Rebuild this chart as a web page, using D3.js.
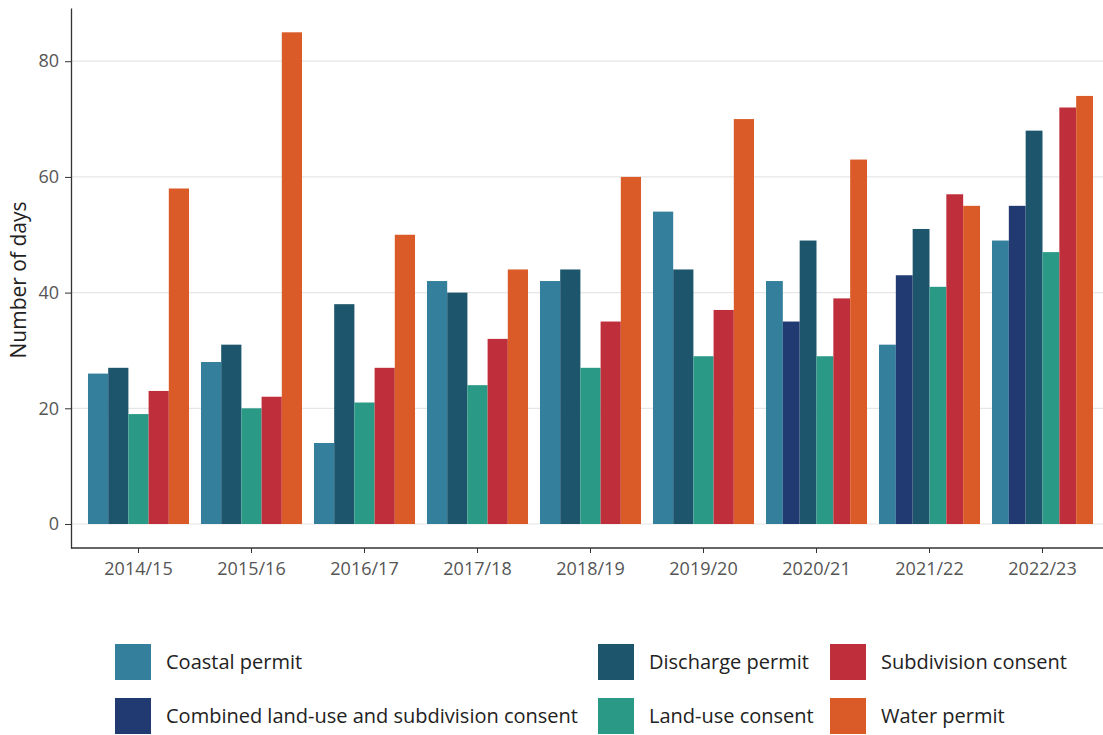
<!DOCTYPE html>
<html>
<head>
<meta charset="utf-8">
<script src="https://cdn.jsdelivr.net/npm/d3@7"></script>
<style>
  body { margin: 0; background: #fff; }
  text { font-family: "Open Sans", sans-serif; }
</style>
</head>
<body>
<div id="chart"></div>
<script>
const years = ["2014/15", "2015/16", "2016/17", "2017/18", "2018/19", "2019/20", "2020/21", "2021/22", "2022/23"];
const seriesNames = ["Coastal permit", "Combined land-use and subdivision consent", "Discharge permit", "Land-use consent", "Subdivision consent", "Water permit"];
const seriesColors = ["#337f9c", "#213a72", "#1c556c", "#2a9a86", "#bf2f3b", "#da5b27"];

// null = no value that year
const coastal     = [26, 28, 14, 42, 42, 54, 42, 31, 49];
const combined    = [null, null, null, null, null, null, 35, 43, 55];
const discharge   = [27, 31, 38, 40, 44, 44, 49, 51, 68];
const landUse     = [19, 20, 21, 24, 27, 29, 29, 41, 47];
const subdivision = [23, 22, 27, 32, 35, 37, 39, 57, 72];
const water       = [58, 85, 50, 44, 60, 70, 63, 55, 74];

const yTicks = [0, 20, 40, 60, 80];

const seriesValues = [coastal, combined, discharge, landUse, subdivision, water];

const W = 1103, H = 735;
const svg = d3.select("#chart").append("svg")
  .attr("width", W).attr("height", H);

const axisLeftX = 71, axisBottomY = 548;

const x = d3.scaleBand()
  .domain(years)
  .range([82, 1099])
  .paddingInner(0.106)
  .paddingOuter(0.053);

const y = d3.scaleLinear()
  .domain([-4.15, 89.2])
  .range([axisBottomY, 8]);

// grid
svg.append("g")
  .selectAll("line")
  .data(yTicks)
  .enter().append("line")
  .attr("x1", axisLeftX).attr("x2", W)
  .attr("y1", d => y(d)).attr("y2", d => y(d))
  .attr("stroke", "#e6e6e6").attr("stroke-width", 1.2);

// bars
const groups = svg.append("g")
  .selectAll("g")
  .data(years)
  .enter().append("g")
  .attr("transform", d => `translate(${x(d)},0)`);

groups.each(function (yr, i) {
  const present = seriesNames
    .map((name, k) => ({ name, k, v: seriesValues[k][i] }))
    .filter(d => d.v !== null);
  const sub = d3.scaleBand()
    .domain(present.map(d => d.name))
    .range([0, x.bandwidth()]);
  d3.select(this).selectAll("rect")
    .data(present)
    .enter().append("rect")
    .attr("x", d => sub(d.name))
    .attr("width", sub.bandwidth())
    .attr("y", d => y(d.v))
    .attr("height", d => y(0) - y(d.v))
    .attr("fill", d => seriesColors[d.k]);
});

// y axis
const yAxis = svg.append("g")
  .attr("transform", `translate(${axisLeftX},0)`)
  .call(d3.axisLeft(y).tickValues(yTicks).tickSize(6).tickSizeOuter(0));
yAxis.select(".domain").attr("stroke", "#333").attr("stroke-width", 1.3);
yAxis.selectAll(".tick line").attr("stroke", "#333");
yAxis.selectAll(".tick text")
  .attr("fill", "#555").style("font-size", "18px").attr("x", -12);

// x axis
const xAxis = svg.append("g")
  .attr("transform", `translate(0,${axisBottomY})`)
  .call(d3.axisBottom(x).tickSize(5).tickSizeOuter(0));
xAxis.select(".domain").attr("d", `M${axisLeftX},0H${W}`).attr("stroke", "#333").attr("stroke-width", 1.3);
xAxis.selectAll(".tick line").attr("stroke", "#333");
xAxis.selectAll(".tick text")
  .attr("fill", "#555").style("font-size", "18px").attr("y", 14);

// y label
svg.append("text")
  .attr("transform", `translate(26,280) rotate(-90)`)
  .attr("text-anchor", "middle")
  .attr("fill", "#222")
  .style("font-size", "21px")
  .text("Number of days");

// legend
const legendCols = [115, 598, 830];
const legendRows = [662, 716];
const legendOrder = [0, 1, 2, 3, 4, 5];
const legend = svg.append("g")
  .selectAll("g")
  .data(legendOrder)
  .enter().append("g")
  .attr("transform", (d, i) => `translate(${legendCols[Math.floor(i / 2)]},${legendRows[i % 2]})`);
legend.append("rect")
  .attr("x", 0).attr("y", -18)
  .attr("width", 36).attr("height", 36)
  .attr("fill", d => seriesColors[d]);
legend.append("text")
  .attr("x", 51).attr("dy", "0.35em")
  .attr("fill", "#222")
  .style("font-size", "20px")
  .text(d => seriesNames[d]);
</script>
</body>
</html>
